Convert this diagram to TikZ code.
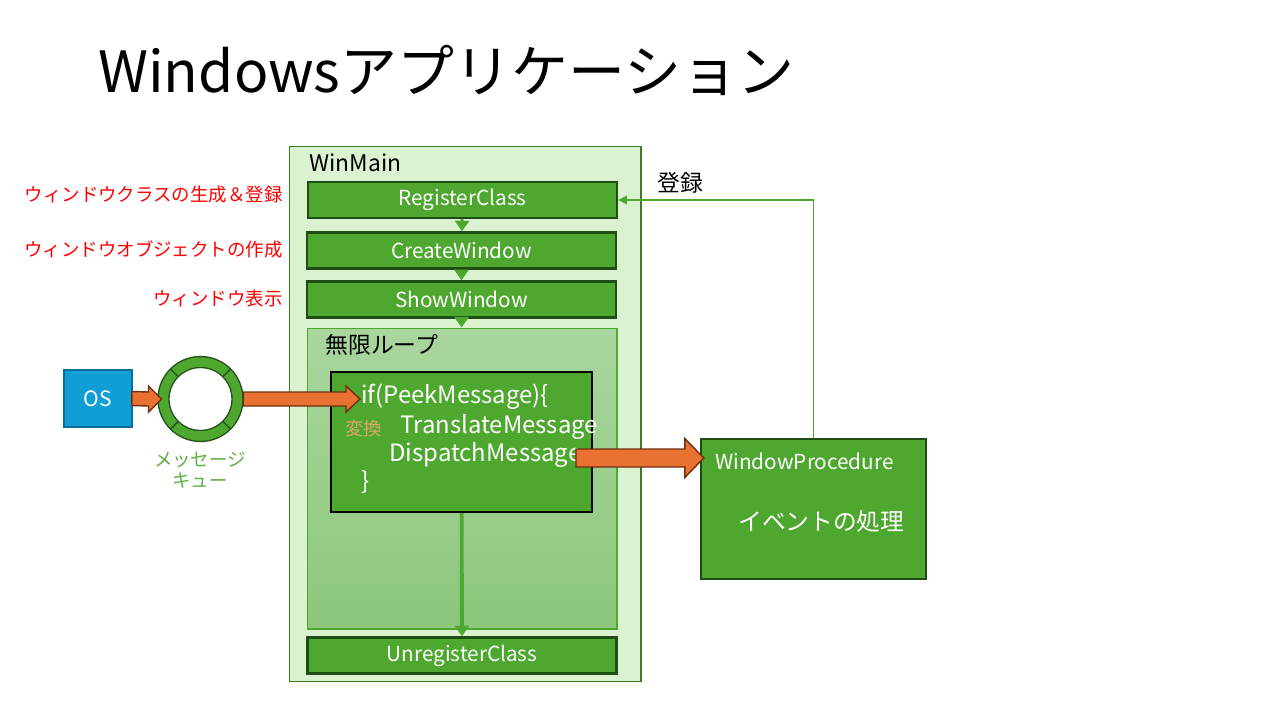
\documentclass[tikz,border=0pt]{standalone}
\usepackage{fontspec}
\setmainfont{Noto Sans CJK JP}
\usetikzlibrary{arrows.meta,calc,positioning}

\definecolor{boxgreen}{HTML}{4EA72E}
\definecolor{darkgreen}{HTML}{1F4E14}
\definecolor{mainbg}{HTML}{DAF2D0}
\definecolor{mainborder}{HTML}{3B7D23}
\definecolor{looptop}{HTML}{A9D69E}
\definecolor{loopbottom}{HTML}{8CC77C}
\definecolor{arrorange}{HTML}{E97132}
\definecolor{arrbrown}{HTML}{6E300C}
\definecolor{osblue}{HTML}{0F9ED5}
\definecolor{osborder}{HTML}{0B6E96}
\definecolor{ringdark}{HTML}{25501A}
\definecolor{qgreen}{HTML}{5DB03F}
\definecolor{henkan}{HTML}{D9A86A}

\newcommand{\pxfont}[1]{\fontsize{#1}{#1}\selectfont}

% block arrow: start, tip, shaft half, head half, head length
\newcommand{\blockarr}[5]{%
  \draw[orangearrow] ($(#1)+(0,#3)$) -- ($(#2)+(-#5,#3)$) -- ($(#2)+(-#5,#4)$) -- (#2)
    -- ($(#2)+(-#5,-#4)$) -- ($(#2)+(-#5,-#3)$) -- ($(#1)+(0,-#3)$) -- cycle;}

\tikzset{
  stepbox/.style={draw=darkgreen, line width=1.4pt, fill=boxgreen, text=white,
    minimum width=309*0.2mm, minimum height=36*0.2mm, inner sep=0pt, font=\pxfont{11.8}},
  plainlabel/.style={anchor=west, inner sep=0pt},
  redlabel/.style={text=red, anchor=east, inner sep=0pt, font=\pxfont{10.5}},
  codeline/.style={anchor=west, inner sep=0pt, text=white, font=\pxfont{13.6}},
  flow/.style={draw=boxgreen, line width=1.6pt, -{Triangle[length=6pt,width=8pt]}},
  orangearrow/.style={fill=arrorange, draw=arrbrown, line width=0.8pt},
}

\begin{document}
\begin{tikzpicture}[x=0.02cm, y=-0.02cm]
\useasboundingbox (0,0) rectangle (1280,720);

\node[anchor=base west, inner sep=0pt, font=\pxfont{32.4}] (title) at (98,92) {Windowsアプリケーション};

% WinMain
\node[draw=mainborder, fill=mainbg, line width=0.6pt, minimum width=352*0.2mm,
  minimum height=536*0.2mm, inner sep=0pt] (winmain) at (465,414) {};
\node[plainlabel, font=\pxfont{13}] (winmainlabel) at (309,163) {WinMain};

\node[stepbox] (regclass) at (462.5,200) {RegisterClass};
\node[stepbox] (createwin) at (461.5,250.5) {CreateWindow};
\node[stepbox] (showwin) at (461.5,299.5) {ShowWindow};

% loop
\node[draw=boxgreen, line width=0.6pt, top color=looptop, bottom color=loopbottom,
  minimum width=310*0.2mm, minimum height=301*0.2mm, inner sep=0pt] (loop) at (462,478.5) {};
\node[plainlabel, font=\pxfont{13}] (looplabel) at (325,345) {無限ループ};

\node[draw=black, line width=1.4pt, fill=boxgreen, minimum width=261*0.2mm,
  minimum height=140*0.2mm, inner sep=0pt] (peek) at (461.5,442) {};
\node[codeline] (peekif) at (361,397) {if(PeekMessage)\{};
\node[codeline] (peektrans) at (400,427) {TranslateMessage};
\node[codeline] (peekdisp) at (389,455) {DispatchMessage};
\node[codeline] (peekend) at (361,482) {\}};
\node[plainlabel, text=henkan, font=\pxfont{10.5}] (henkanlabel) at (345,428) {変換};

\node[stepbox] (unreg) at (462,655.5) {UnregisterClass};

%flechas verdes
\draw[flow] (regclass) -- (createwin);
\draw[flow] (createwin) -- (showwin);
\draw[flow] (showwin) -- (loop);
\draw[flow, line width=2.2pt] (peek) -- (unreg);

% rotulos
\node[redlabel] (lblreg) at (283,195) {ウィンドウクラスの生成＆登録};
\node[redlabel] (lblcreate) at (283,249) {ウィンドウオブジェクトの作成};
\node[redlabel] (lblshow) at (283,298) {ウィンドウ表示};

% OS e fila
\node[draw=osborder, fill=osblue, line width=1pt, minimum width=68*0.2mm,
  minimum height=57*0.2mm, inner sep=0pt, text=white, font=\pxfont{12}] (os) at (98,398.5) {OS};
\node[circle, draw=ringdark, line width=0.8pt, double=boxgreen, double distance=9.5*0.2mm,
  minimum size=74*0.2mm, inner sep=0pt] (queue) at (200.5,399) {};
\foreach \a in {45,135,225,315}
  \draw[ringdark, line width=0.8pt] ($(queue.center)+(\a:31.5)$) -- ($(queue.center)+(\a:42)$);
\node[text=qgreen, align=center, font=\fontsize{10.5}{12}\selectfont, inner sep=0pt] (queuelabel) at (200,470) {メッセージ\\キュー};

% WindowProcedure
\node[draw=darkgreen, line width=1.4pt, fill=boxgreen, minimum width=225*0.2mm,
  minimum height=140*0.2mm, inner sep=0pt] (wndproc) at (813.5,509) {};
\node[plainlabel, text=white, font=\pxfont{11.8}] (wndproclabel) at (715,461) {WindowProcedure};
\node[plainlabel, text=white, font=\pxfont{13.5}] (eventlabel) at (738,522) {イベントの処理};

% registro
\draw[draw=boxgreen, line width=0.6pt, -{Triangle[length=5pt,width=5pt]}] (wndproc.north) |- (regclass.east);
\node[plainlabel, font=\pxfont{13}] (tourokulabel) at (657,183) {登録};

% setas laranja
\coordinate (os2q) at ($(os.east)+(-1,0)$);
\coordinate (qin) at ($(queue.center)+(-39,0)$);
\coordinate (qout) at ($(queue.center)+(43,0)$);
\coordinate (peekin) at (360,399);
\coordinate (dispout) at (576,458);
\coordinate (procin) at ($(wndproc.west |- dispout)+(4,0)$);
\blockarr{os2q}{qin}{7}{13}{13}
\blockarr{qout}{peekin}{7}{13}{14}
\blockarr{dispout}{procin}{9}{19.5}{19}

\end{tikzpicture}
\end{document}
